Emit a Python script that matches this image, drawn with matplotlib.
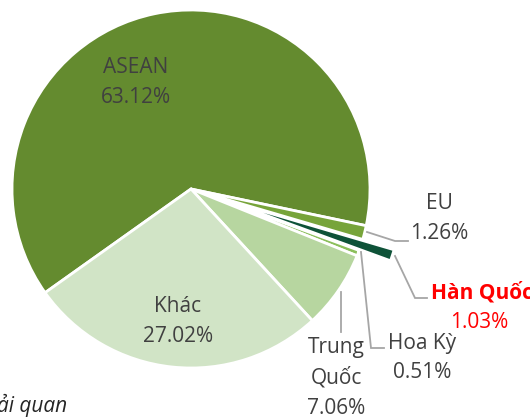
import matplotlib
matplotlib.use("Agg")
import matplotlib.pyplot as plt

# Export market shares (%)
regions = ["ASEAN", "EU", "Hàn Quốc", "Hoa Kỳ", "Trung Quốc", "Khác"]
shares = [63.12, 1.26, 1.03, 0.51, 7.06, 27.02]
share_labels = ["63.12%", "1.26%", "1.03%", "0.51%", "7.06%", "27.02%"]
name_lines = [["ASEAN"], ["EU"], ["Hàn Quốc"], ["Hoa Kỳ"], ["Trung", "Quốc"], ["Khác"]]
slice_colors = ["#648B2F", "#77A43A", "#0E5238", "#8CBF5C", "#B7D6A0", "#D1E4C6"]
source_note = "Nguồn: Tổng cục Hải quan"

W, H = 530, 417
plt.rcParams["font.family"] = ["Open Sans", "DejaVu Sans"]

fig = plt.figure(figsize=(W / 100, H / 100), dpi=100)
ax = fig.add_axes([0, 0, 1, 1])


def py(y):
    # convert top-down pixel row to axes y
    return H - y


explode = [0, 0, 33, 0, 0, 0]
ax.pie(
    shares,
    colors=slice_colors,
    startangle=215.4,
    counterclock=False,
    center=(191, py(189)),
    radius=179,
    explode=explode,
    wedgeprops={"edgecolor": "white", "linewidth": 2.0},
    frame=True,
)
ax.set_xlim(0, W)
ax.set_ylim(0, H)
ax.set_aspect("equal")
ax.axis("off")

txt = "#404040"
fs = 15
step = 30  # pixel gap between label lines

# label anchors: (x, y of first line) in pixels, one per slice
label_pos = [(136, 67), (439, 203), (431, 293), (422, 343), (336, 348), (178, 307)]

for i, (x, y0) in enumerate(label_pos):
    lines = name_lines[i] + [share_labels[i]]
    for j, line in enumerate(lines):
        if i == 2:
            # Hàn Quốc highlighted in red
            ax.text(x if j == 0 else 479, py(y0 + j * step), line,
                    ha="left" if j == 0 else "center", va="center",
                    fontsize=fs, color="#FF0000",
                    fontweight="bold" if j == 0 else "normal")
        else:
            ax.text(x, py(y0 + j * step), line, ha="center", va="center",
                    fontsize=fs, color=txt)

# leader lines
lc = "#A6A6A6"
leaders = [
    [(367, 232), (395, 241), (408, 241)],
    [(395, 256), (415, 298), (427, 298)],
    [(361, 252), (371, 348), (384, 348)],
    [(341, 292), (341, 332)],
]
for pts in leaders:
    ax.plot([p[0] for p in pts], [py(p[1]) for p in pts], color=lc, lw=1.3,
            solid_joinstyle="miter")

# source note, cut off at the left edge like the original
ax.text(67, py(405), source_note, ha="right", va="center", fontsize=fs,
        color="#262626", style="italic")

fig.savefig("out.png", dpi=100)
